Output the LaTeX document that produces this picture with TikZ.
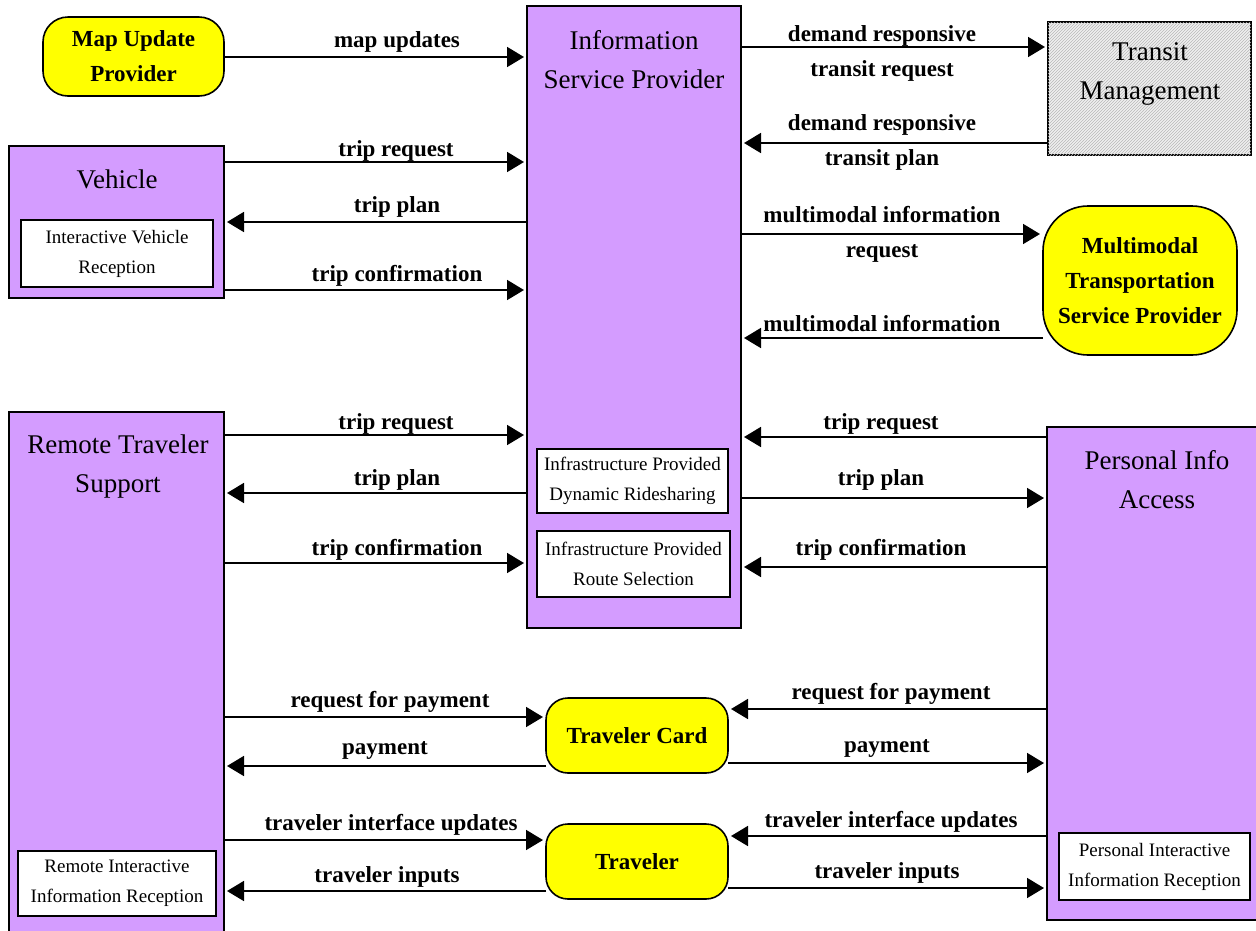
\documentclass[tikz,border=0pt]{standalone}
\usepackage{fontspec}
\setmainfont{Liberation Serif}
\usetikzlibrary{arrows.meta,patterns}
\definecolor{lpurple}{RGB}{212,156,255}
\definecolor{myyellow}{RGB}{255,255,0}
\tikzset{
 base/.style={inner sep=0pt, outer sep=0pt, anchor=north west},
 pbox/.style={base, draw, line width=1.6pt, fill=lpurple},
 wbox/.style={base, draw, line width=1.4pt, fill=white, align=center, font=\fontsize{19}{30}\selectfont},
 ybox/.style={base, draw, line width=1.6pt, fill=myyellow, align=center, font=\fontsize{23}{35}\selectfont\bfseries},
 hbox/.style={base, draw, line width=1.6pt, fill=black!6, postaction={pattern=north east lines, pattern color=black!28}},
 ttl/.style={align=center, font=\fontsize{27}{39}\selectfont, inner sep=0pt},
 lbl/.style={align=center, font=\fontsize{23}{35}\selectfont\bfseries, inner sep=0pt},
 arr/.style={line width=1.8pt, -{Triangle[length=17pt,width=20pt]}, shorten >=3pt},
}
\begin{document}
\begin{tikzpicture}[x=1pt,y=-1pt]
\clip (0,0) rectangle (1256,930);
% boxes
\node[pbox, minimum width=214pt, minimum height=622pt] (isp) at (527,6) {};
\node[ttl] (ispt) at (634,60) {Information\\Service Provider};
\node[wbox, minimum width=191pt, minimum height=64pt] (idr) at (537,449) {Infrastructure Provided\\Dynamic Ridesharing};
\node[wbox, minimum width=193pt, minimum height=66pt] (irs) at (537,531) {Infrastructure Provided\\Route Selection};

\node[ybox, rounded corners=25pt, minimum width=181pt, minimum height=79pt] (mup) at (43,17) {Map Update\\Provider};

\node[hbox, minimum width=203pt, minimum height=133pt] (tm) at (1048,22) {};
\node[ttl] (tmt) at (1150,74) {Transit\\Management};

\node[pbox, minimum width=215pt, minimum height=152pt] (veh) at (9,146) {};
\node[ttl] (veht) at (117,179) {Vehicle};
\node[wbox, minimum width=192pt, minimum height=67pt] (ivr) at (21,220) {Interactive Vehicle\\Reception};

\node[ybox, rounded corners=45pt, minimum width=194pt, minimum height=149pt] (mtsp) at (1043,206) {Multimodal\\Transportation\\Service Provider};

\node[pbox, minimum width=215pt, minimum height=530pt] (rts) at (9,412) {};
\node[ttl] (rtst) at (118,466) {Remote Traveler\\Support};
\node[wbox, minimum width=198pt, minimum height=65pt] (rir) at (18,851) {Remote Interactive\\Information Reception};

\node[pbox, minimum width=215pt, minimum height=493pt] (pia) at (1047,427) {};
\node[ttl] (piat) at (1157,480) {Personal Info\\Access};
\node[wbox, minimum width=191pt, minimum height=67pt] (pir) at (1059,833) {Personal Interactive\\Information Reception};

\node[ybox, rounded corners=22pt, minimum width=182pt, minimum height=75pt] (tc) at (546,698) {Traveler Card};
\node[ybox, rounded corners=22pt, minimum width=182pt, minimum height=75pt] (trav) at (546,824) {Traveler};

% arrows left of ISP
\draw[arr] (mup.east |- 0,57) -- (isp.west |- 0,57);
\draw[arr] (veh.east |- 0,162) -- (isp.west |- 0,162);
\draw[arr] (isp.west |- 0,222) -- (veh.east |- 0,222);
\draw[arr] (veh.east |- 0,290) -- (isp.west |- 0,290);
\draw[arr] (rts.east |- 0,435) -- (isp.west |- 0,435);
\draw[arr] (isp.west |- 0,493) -- (rts.east |- 0,493);
\draw[arr] (rts.east |- 0,563) -- (isp.west |- 0,563);
\draw[arr] (rts.east |- 0,717) -- (tc.west |- 0,717);
\draw[arr] (tc.west |- 0,766) -- (rts.east |- 0,766);
\draw[arr] (rts.east |- 0,840) -- (trav.west |- 0,840);
\draw[arr] (trav.west |- 0,891) -- (rts.east |- 0,891);
% arrows right of ISP
\draw[arr] (isp.east |- 0,47) -- (tm.west |- 0,47);
\draw[arr] (tm.west |- 0,143) -- (isp.east |- 0,143);
\draw[arr] (isp.east |- 0,234) -- (mtsp.west |- 0,234);
\draw[arr] (mtsp.west |- 0,338) -- (isp.east |- 0,338);
\draw[arr] (pia.west |- 0,437) -- (isp.east |- 0,437);
\draw[arr] (isp.east |- 0,498) -- (pia.west |- 0,498);
\draw[arr] (pia.west |- 0,567) -- (isp.east |- 0,567);
\draw[arr] (pia.west |- 0,709) -- (tc.east |- 0,709);
\draw[arr] (tc.east |- 0,763) -- (pia.west |- 0,763);
\draw[arr] (pia.west |- 0,836) -- (trav.east |- 0,836);
\draw[arr] (trav.east |- 0,888) -- (pia.west |- 0,888);

% labels left
\node[lbl] (l1) at (397,42) {map updates};
\node[lbl] (l2) at (396,151) {trip request};
\node[lbl] (l3) at (397,207) {trip plan};
\node[lbl] (l4) at (397,276) {trip confirmation};
\node[lbl] (l5) at (396,424) {trip request};
\node[lbl] (l6) at (397,480) {trip plan};
\node[lbl] (l7) at (397,550) {trip confirmation};
\node[lbl] (l8) at (390,702) {request for payment};
\node[lbl] (l9) at (385,750) {payment};
\node[lbl] (l10) at (391,825) {traveler interface updates};
\node[lbl] (l11) at (387,877) {traveler inputs};
% labels right
\node[lbl] (r1) at (882,53) {demand responsive\\transit request};
\node[lbl] (r2) at (882,142) {demand responsive\\transit plan};
\node[lbl] (r3) at (882,234) {multimodal information\\request};
\node[lbl] (r4) at (882,324) {multimodal information};
\node[lbl] (r5) at (881,424) {trip request};
\node[lbl] (r6) at (881,480) {trip plan};
\node[lbl] (r7) at (881,550) {trip confirmation};
\node[lbl] (r8) at (891,694) {request for payment};
\node[lbl] (r9) at (887,748) {payment};
\node[lbl] (r10) at (891,822) {traveler interface updates};
\node[lbl] (r11) at (887,873) {traveler inputs};
\end{tikzpicture}
\end{document}
